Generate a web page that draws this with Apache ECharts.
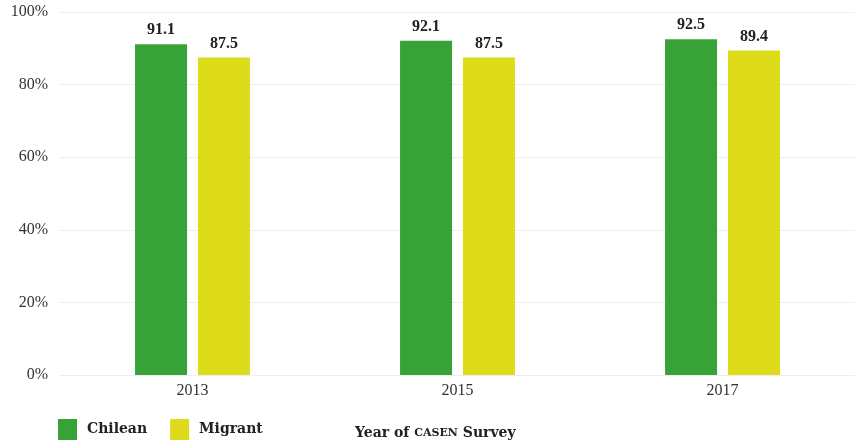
<!DOCTYPE html>
<html><head><meta charset="utf-8">
<script src="https://cdn.jsdelivr.net/npm/echarts@6/dist/echarts.min.js"></script>
<style>html,body{margin:0;padding:0;background:#fff}#c{width:868px;height:443px}</style>
</head><body><div id="c"></div>
<script>
const categories = ['2013', '2015', '2017'];
const chilean = [91.1, 92.1, 92.5];
const migrant = [87.5, 87.5, 89.4];
const seriesNames = ['Chilean', 'Migrant'];
const yTicks = [0, 20, 40, 60, 80, 100];

const FONT = '"DejaVu Serif", "Liberation Serif", serif';
const TFONT = '"Liberation Serif", serif';
const chart = echarts.init(document.getElementById('c'));
const labelStyle = {show: true, position: 'top', distance: 6, color: '#222', fontFamily: TFONT, fontWeight: 'bold', fontSize: 16, formatter: p => p.value.toFixed(1)};
chart.setOption({
  animation: false,
  textStyle: {fontFamily: FONT},
  grid: {left: 60, right: 13, top: 12, bottom: 68},
  legend: {
    data: seriesNames, left: 53, top: 414, itemWidth: 19, itemHeight: 21, itemGap: 23,
    icon: 'rect',
    textStyle: {fontFamily: FONT, fontWeight: 'bold', fontSize: 14, color: '#222', padding: [6, 0, 0, 5]}
  },
  title: {
    text: 'Year of {sc|CASEN} Survey', left: 350, top: 421,
    textStyle: {fontFamily: FONT, fontWeight: 'bold', fontSize: 14, color: '#222',
      rich: {sc: {fontFamily: FONT, fontWeight: 'bold', fontSize: 11, color: '#222'}}}
  },
  xAxis: {
    type: 'category', data: categories,
    axisLine: {show: false}, axisTick: {show: false},
    axisLabel: {color: '#333', fontFamily: TFONT, fontSize: 16, margin: 8}
  },
  yAxis: {
    type: 'value', min: 0, max: 100, interval: 20,
    axisLabel: {color: '#333', fontFamily: TFONT, fontSize: 16, margin: 12, formatter: v => yTicks.includes(v) ? v + '%' : ''},
    splitLine: {lineStyle: {color: '#eeeeee', width: 1}},
    axisLine: {show: false}, axisTick: {show: false}
  },
  series: [
    {name: seriesNames[0], type: 'bar', data: chilean, barWidth: 52, barGap: '21%', itemStyle: {color: '#37a337'}, label: labelStyle},
    {name: seriesNames[1], type: 'bar', data: migrant, barWidth: 52, itemStyle: {color: '#dedc1a'}, label: labelStyle}
  ]
});
</script></body></html>
